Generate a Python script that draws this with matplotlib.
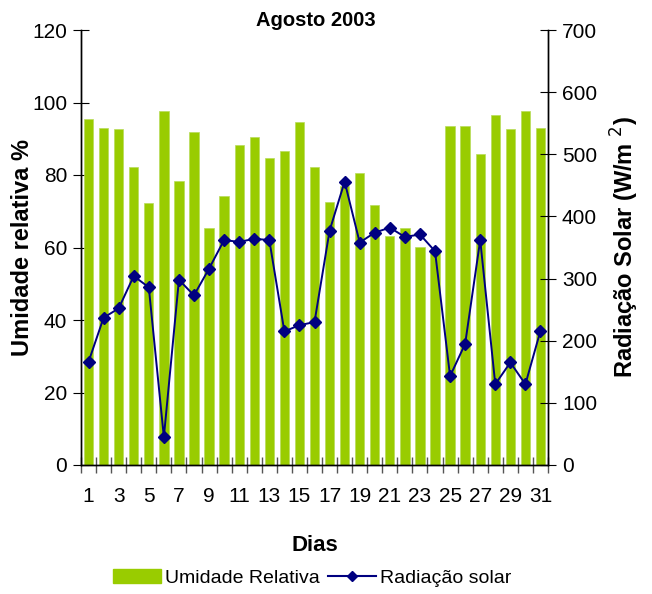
import matplotlib
matplotlib.use("Agg")
import matplotlib.pyplot as plt
import numpy as np
from matplotlib.lines import Line2D
from matplotlib.patches import Patch

days = list(range(1, 32))
umidade = [95.5, 93.1, 92.6, 82.1, 72.2, 97.7, 78.4, 91.9, 65.3, 74.2,
           88.3, 90.4, 84.7, 86.7, 94.5, 82.1, 72.5, 77.0, 80.5, 71.6,
           63.3, 65.3, 60.1, 59.0, 93.5, 93.5, 85.7, 96.6, 92.6, 97.7, 93.1]
radiacao = [166, 237, 252, 304, 286, 45, 298, 273, 316, 362,
            359, 364, 362, 215, 225, 230, 377, 456, 358, 374,
            382, 367, 371, 344, 143, 195, 362, 130, 165, 130, 216]
tick_labels = [str(d) for d in days if d % 2 == 1]

plt.rcParams['font.family'] = ['Liberation Sans', 'DejaVu Sans']

fig = plt.figure(figsize=(6.52, 5.94), dpi=100)
ax = fig.add_axes([81/652, 1-465/594, (548-81)/652, (465-30)/594])
ax2 = ax.twinx()

bar_color = '#99CC00'
line_color = '#000080'

ax.bar(days, umidade, width=0.62, color=bar_color, edgecolor='#B8DC5A', linewidth=0.5, zorder=2)
ax2.plot(days, radiacao, color=line_color, marker='D', markersize=6.5, linewidth=1.4, zorder=3)

ax.set_xlim(0.5, 31.5)
ax.set_ylim(0, 120)
ax2.set_ylim(0, 700)
ax.set_yticks(np.arange(0, 121, 20))
ax2.set_yticks(np.arange(0, 701, 100))

odd_days = [d for d in days if d % 2 == 1]
ax.set_xticks(odd_days)
ax.set_xticklabels(tick_labels)
ax.set_xticks(np.arange(0.5, 32, 1), minor=True)
ax.tick_params(axis='x', which='major', length=0, labelsize=15, pad=16)
ax.tick_params(axis='x', which='minor', length=12, direction='inout', width=1, color='#555555')
ax.tick_params(axis='y', which='major', length=12, direction='inout', labelsize=15, pad=4)
ax2.tick_params(axis='y', which='major', length=12, direction='inout', labelsize=15, pad=4)

for a in (ax, ax2):
    a.spines['top'].set_visible(False)
    for s in ('left', 'right', 'bottom'):
        a.spines[s].set_linewidth(1.0)
ax.set_zorder(ax2.get_zorder() - 1)
ax2.patch.set_visible(False)

ax.set_ylabel('Umidade relativa %', fontsize=17, fontweight='bold')
ax.yaxis.set_label_coords((34-81)/467, 0.5)
ax2.set_ylabel('Radiação Solar (W/m $^{2}$)', fontsize=17, fontweight='bold')
ax2.yaxis.set_label_coords((609-81)/467, 0.5)
ax.set_xlabel('Dias', fontsize=16, fontweight='bold')
ax.xaxis.set_label_coords(0.5, -(535-465)/435)
fig.text(316/652, 1-20/594, 'Agosto 2003', fontsize=14.5, fontweight='bold', ha='center', va='center')

handles = [Patch(facecolor=bar_color, edgecolor=bar_color),
           Line2D([0], [0], color=line_color, marker='D', markersize=5, linewidth=1.5)]
fig.legend(handles, ['Umidade Relativa', 'Radiação solar'], loc='center',
           bbox_to_anchor=(312/652, 1-578/594), ncol=2, frameon=False, fontsize=14,
           handlelength=2.5, handletextpad=0.2, columnspacing=0.4)

fig.savefig('out.png', dpi=100)
